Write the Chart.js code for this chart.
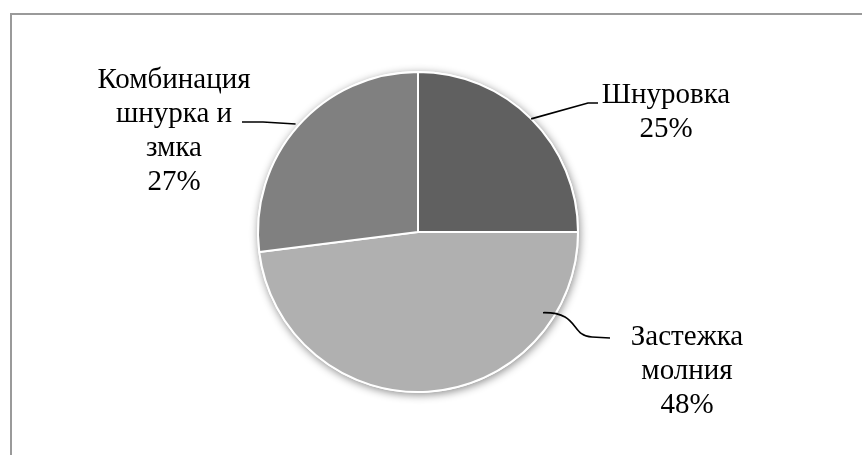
<!DOCTYPE html>
<html>
<head>
<meta charset="utf-8">
<script src="https://cdn.jsdelivr.net/npm/chart.js@4/dist/chart.umd.min.js"></script>
<style>
    body { margin: 0; background: #fff; }
    #wrap { position: relative; width: 862px; height: 455px; overflow: hidden; }
    #frame {
        position: absolute; left: 10px; top: 13px; width: 900px; height: 500px;
        border-left: 2px solid #9a9a9a; border-top: 2px solid #9a9a9a;
    }
    #myChart { position: absolute; left: 0; top: 0; }
</style>
</head>
<body>
<div id="wrap">
    <div id="frame"></div>
    <canvas id="myChart" width="862" height="455"></canvas>
</div>
<script>
const labels = ['Шнуровка', 'Застежка молния', 'Комбинация шнурка и змка'];
const shares = [25, 48, 27];
const labelLines = [['Шнуровка'], ['Застежка', 'молния'], ['Комбинация', 'шнурка и', 'змка']];
const sliceColors = ['#606060', '#b0b0b0', '#808080'];

// callout placement, offsets from the pie centre
// start: t = position along the slice, r = fraction of radius
const callouts = [
    { tx: 248, ty: -129, start: { t: 0.5, r: 1.0 }, path: [[170, -129], [180, -129]] },
    { tx: 269, ty: 113, start: { t: 0.19, r: 0.93 }, curve: [[162, 80], [152, 104], [174, 105]], path: [[192, 106]] },
    { tx: -244, ty: -144, start: { t: 0.5, r: 1.02 }, path: [[-155, -110], [-176, -110]] },
];

const FONT = '29px "Liberation Serif", "Times New Roman", serif';
const LINE_H = 34;

// soft shadow under the whole pie
const pieShadow = {
    id: 'pieShadow',
    beforeDatasetsDraw(chart) {
        const arc = chart.getDatasetMeta(0).data[0];
        if (!arc) return;
        const ctx = chart.ctx;
        ctx.save();
        ctx.shadowColor = 'rgba(0,0,0,0.45)';
        ctx.shadowBlur = 8;
        ctx.shadowOffsetX = 1;
        ctx.shadowOffsetY = 2;
        ctx.fillStyle = '#fff';
        ctx.beginPath();
        ctx.arc(arc.x, arc.y, arc.outerRadius + 1, 0, Math.PI * 2);
        ctx.fill();
        ctx.restore();
    }
};

// labels with leader lines
const calloutLabels = {
    id: 'calloutLabels',
    afterDatasetsDraw(chart) {
        const ctx = chart.ctx;
        const arcs = chart.getDatasetMeta(0).data;
        ctx.save();
        for (var i = 0; i < arcs.length; i++) {
            const arc = arcs[i];
            const c = callouts[i];
            const cx = arc.x, cy = arc.y;
            const a = arc.startAngle + c.start.t * (arc.endAngle - arc.startAngle);
            const r = arc.outerRadius * c.start.r;

            ctx.strokeStyle = '#000';
            ctx.lineWidth = 1.6;
            ctx.beginPath();
            ctx.moveTo(cx + r * Math.cos(a), cy + r * Math.sin(a));
            if (c.curve) {
                ctx.bezierCurveTo(cx + c.curve[0][0], cy + c.curve[0][1],
                    cx + c.curve[1][0], cy + c.curve[1][1],
                    cx + c.curve[2][0], cy + c.curve[2][1]);
            }
            for (var j = 0; j < c.path.length; j++) {
                ctx.lineTo(cx + c.path[j][0], cy + c.path[j][1]);
            }
            ctx.stroke();

            const lines = labelLines[i].concat([shares[i] + '%']);
            ctx.fillStyle = '#000';
            ctx.font = FONT;
            ctx.textAlign = 'center';
            ctx.textBaseline = 'alphabetic';
            for (var k = 0; k < lines.length; k++) {
                ctx.fillText(lines[k], cx + c.tx, cy + c.ty + k * LINE_H);
            }
        }
        ctx.restore();
    }
};

const data = {
    labels: labels,
    datasets: [{
        data: shares,
        backgroundColor: sliceColors,
        borderColor: '#ffffff',
        borderWidth: 2,
        hoverOffset: 0,
        radius: 160,
    }],
};

const config = {
    type: 'pie',
    data: data,
    options: {
        responsive: false,
        animation: false,
        layout: {
            padding: { top: 72, bottom: 63, left: 100, right: 126 },
        },
        plugins: {
            legend: { display: false },
            tooltip: { enabled: false },
        },
    },
    plugins: [pieShadow, calloutLabels],
};

const myChart = new Chart(
    document.getElementById('myChart'),
    config,
);
</script>
</body>
</html>
